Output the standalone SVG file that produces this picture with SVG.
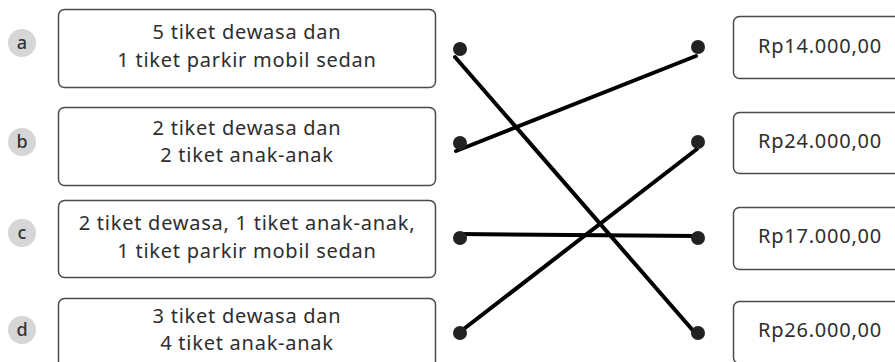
<svg xmlns="http://www.w3.org/2000/svg" width="895" height="362" viewBox="0 0 895 362">
<style>
.box{fill:#fff;stroke:#4a4a4a;stroke-width:1.5}
.t{font-family:"Noto Sans","Open Sans",sans-serif;font-size:20px;letter-spacing:0.75px;fill:#2e2e2e;text-anchor:middle}
.lab{fill:#d6d6d6}
.lt{font-family:"Noto Sans","Open Sans",sans-serif;font-size:18px;font-weight:500;fill:#333;text-anchor:middle}
.dot{fill:#222}
.ln{stroke:#000;stroke-width:4;stroke-linecap:round}
</style>
<rect width="895" height="362" fill="#fff"/>
<g id="label-a"><circle class="lab" cx="22" cy="43" r="14"/><text class="lt" x="22" y="49">a</text></g>
<g id="label-b"><circle class="lab" cx="22" cy="142" r="14"/><text class="lt" x="22" y="148">b</text></g>
<g id="label-c"><circle class="lab" cx="22" cy="233" r="14"/><text class="lt" x="22" y="239">c</text></g>
<g id="label-d"><circle class="lab" cx="22" cy="330" r="14"/><text class="lt" x="22" y="336">d</text></g>
<g id="node-a"><rect class="box" x="58.5" y="9.5" width="377" height="78" rx="6"/><text class="t" x="247" y="39">5 tiket dewasa dan</text><text class="t" x="247" y="67">1 tiket parkir mobil sedan</text></g>
<g id="node-b"><rect class="box" x="58.5" y="107.5" width="377" height="78" rx="6"/><text class="t" x="247" y="135">2 tiket dewasa dan</text><text class="t" x="247" y="162">2 tiket anak-anak</text></g>
<g id="node-c"><rect class="box" x="58.5" y="200.5" width="377" height="77" rx="6"/><text class="t" x="247" y="230">2 tiket dewasa, 1 tiket anak-anak,</text><text class="t" x="247" y="258">1 tiket parkir mobil sedan</text></g>
<g id="node-d"><rect class="box" x="58.5" y="298.5" width="377" height="78" rx="6"/><text class="t" x="247" y="323">3 tiket dewasa dan</text><text class="t" x="247" y="350">4 tiket anak-anak</text></g>
<g id="node-r1"><rect class="box" x="733.5" y="16.5" width="180" height="62" rx="6"/><text class="t" x="820" y="53">Rp14.000,00</text></g>
<g id="node-r2"><rect class="box" x="733.5" y="112.5" width="180" height="61" rx="6"/><text class="t" x="820" y="148">Rp24.000,00</text></g>
<g id="node-r3"><rect class="box" x="733.5" y="207.5" width="180" height="62" rx="6"/><text class="t" x="820" y="243">Rp17.000,00</text></g>
<g id="node-r4"><rect class="box" x="733.5" y="301.5" width="180" height="62" rx="6"/><text class="t" x="820" y="337">Rp26.000,00</text></g>
<g id="connectors">
<line class="ln" x1="455" y1="57" x2="696" y2="334"/>
<line class="ln" x1="456" y1="151" x2="696" y2="56"/>
<line class="ln" x1="458" y1="234" x2="697" y2="236"/>
<line class="ln" x1="456" y1="335" x2="697" y2="149"/>
<circle class="dot" cx="460" cy="49" r="7"/>
<circle class="dot" cx="460" cy="143" r="7"/>
<circle class="dot" cx="460" cy="238" r="7"/>
<circle class="dot" cx="460" cy="333" r="7"/>
<circle class="dot" cx="698" cy="47" r="7"/>
<circle class="dot" cx="698" cy="142" r="7"/>
<circle class="dot" cx="698" cy="238" r="7"/>
<circle class="dot" cx="698" cy="333" r="7"/>
</g>
</svg>
